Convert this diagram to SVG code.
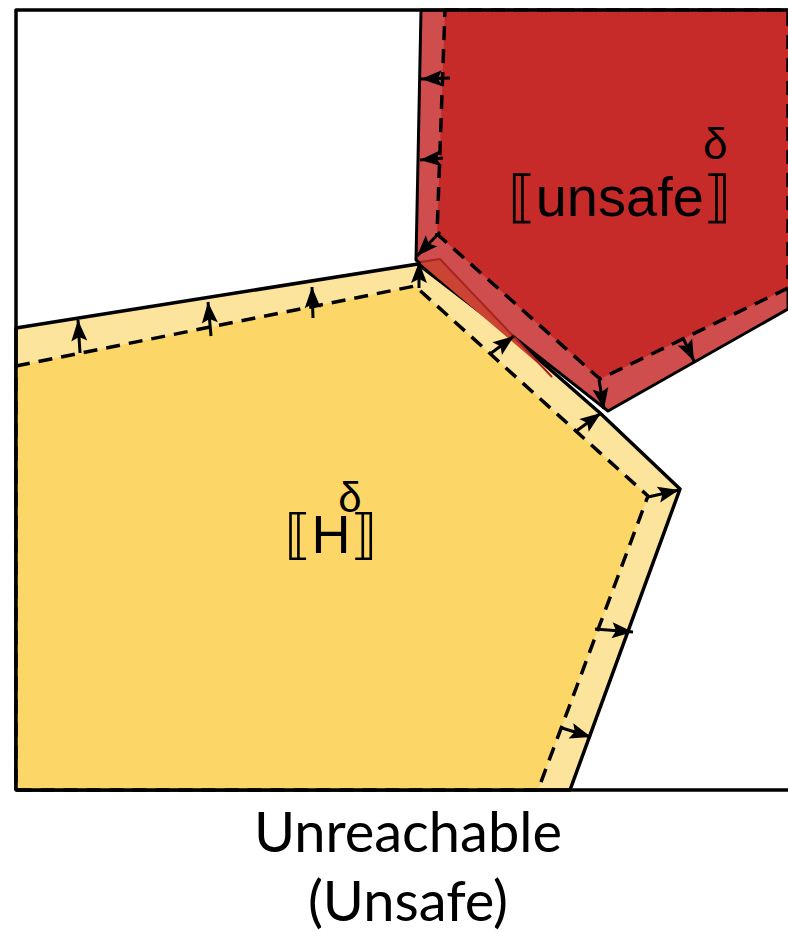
<svg xmlns="http://www.w3.org/2000/svg" width="788" height="933" viewBox="0 0 788 933">
  <defs>
    <marker id="ah" markerUnits="userSpaceOnUse" markerWidth="22" markerHeight="18" refX="21" refY="9" orient="auto" overflow="visible">
      <path d="M0,1 L21,9 L0,17 L4,9 Z" fill="#000"/>
    </marker>
    <style>
      .solid { fill: none; stroke: #000; stroke-width: 3.5; stroke-linejoin: round; }
      .dash { stroke: #000; stroke-width: 3.5; stroke-dasharray: 14 9; stroke-linejoin: round; }
      .arr { stroke: #000; stroke-width: 3; fill: none; marker-end: url(#ah); }
      .lbl { font-family: "Liberation Sans", Arial, "DejaVu Sans", sans-serif; fill: #000; }
      .cap { font-family: Lato, "Open Sans", "Liberation Sans", sans-serif; fill: #000; font-size: 56px; text-anchor: middle; }
    </style>
  </defs>

  <rect width="788" height="933" fill="#fff"/>

  <g id="H-region">
    <polygon points="16,328 418,264 513,337 600,413 680,489 570,790 16,790" class="solid" style="fill:#FCE49C"/>
    <polygon points="16,366 415,286 648,496 538,790 16,790" fill="#FCD667" class="dash"/>
  </g>

  <g id="unsafe-region">
    <polygon points="421,10 788,10 788,309 608,411 416,260" fill="#D04D4D" stroke="#000" stroke-width="3" stroke-linejoin="round"/>
    <polygon points="420,263 440,259 556,381 543,368" fill="#CB4332" stroke="none"/>
    <polyline points="421,262 440,259 552,377" fill="none" stroke="#A82424" stroke-width="2"/>
    <polygon points="445,10 788,10 788,288 600,379 437,234" fill="#C62B2A" class="dash"/>
  </g>

  <g id="frame">
    <path d="M16,790 L16,10 L788,10" class="solid"/>
    <path d="M16,790 L788,790" class="solid"/>
  </g>

  <g id="connectors">
    <line x1="80" y1="353" x2="78" y2="320" class="arr"/>
    <line x1="211" y1="336" x2="208" y2="302" class="arr"/>
    <line x1="313" y1="318" x2="312" y2="287" class="arr"/>
    <line x1="419" y1="288" x2="419" y2="262" class="arr"/>
    <line x1="490" y1="354" x2="514" y2="336" class="arr"/>
    <line x1="575" y1="432" x2="601" y2="413" class="arr"/>
    <line x1="648" y1="497" x2="679" y2="490" class="arr"/>
    <line x1="595" y1="629" x2="633" y2="632" class="arr"/>
    <line x1="562" y1="728" x2="591" y2="737" class="arr"/>
    <line x1="450" y1="78" x2="421" y2="79" class="arr"/>
    <line x1="443" y1="158" x2="420" y2="160" class="arr"/>
    <line x1="440" y1="232" x2="417" y2="256" class="arr"/>
    <line x1="683" y1="338" x2="694" y2="361" class="arr"/>
    <line x1="599" y1="380" x2="604" y2="409" class="arr"/>
  </g>

  <g id="labels">
    <text class="lbl" x="508" y="216" font-size="56">⟦unsafe⟧</text>
    <text class="lbl" x="703" y="159" font-size="44">δ</text>
    <text class="lbl" x="331" y="553" font-size="54" text-anchor="middle">⟦H⟧</text>
    <text class="lbl" x="350" y="512" font-size="42" text-anchor="middle">δ</text>
    <text class="cap" x="408" y="852">Unreachable</text>
    <text class="cap" x="408" y="921">(Unsafe)</text>
  </g>
</svg>
